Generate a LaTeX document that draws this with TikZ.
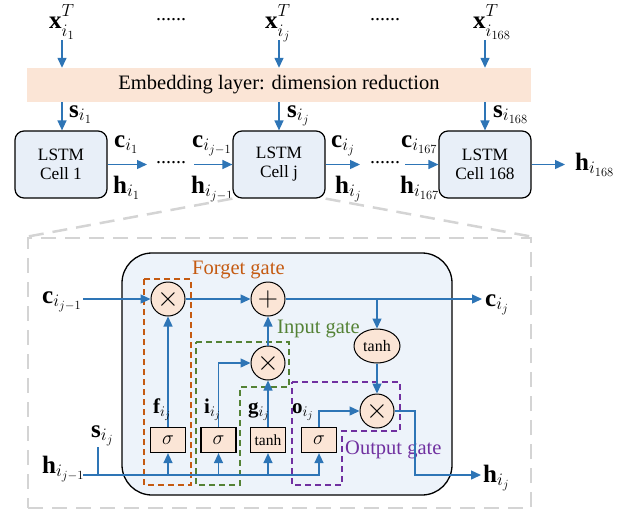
\RequirePackage{fix-cm}
\documentclass[tikz,border=0pt]{standalone}
\usepackage{fontspec}
\setmainfont{Liberation Serif}
\usetikzlibrary{arrows.meta,shapes.geometric}

\definecolor{flowblue}{RGB}{46,117,182}
\definecolor{peach}{RGB}{251,229,214}
\definecolor{cellblue}{RGB}{232,239,248}
\definecolor{bodyblue}{RGB}{237,243,250}
\definecolor{forgetc}{RGB}{197,90,17}
\definecolor{inputc}{RGB}{84,130,53}
\definecolor{outputc}{RGB}{112,48,160}
\definecolor{zoomgray}{RGB}{212,212,212}

% input vector with a raised transpose and a lowered index
\newcommand{\inx}[1]{$\mathbf{x}^{\raisebox{2.5pt}{$\scriptstyle T$}}_{\raisebox{-2.5pt}{$\scriptstyle #1$}}$}

\begin{document}
\begin{tikzpicture}[
    x=1pt, y=-1pt,
    arrow/.style={-{Triangle[length=10pt,width=9pt]}, draw=flowblue, line width=1.4pt},
    wire/.style={draw=flowblue, line width=1.4pt},
    cell/.style={draw, line width=1.2pt, rounded corners=9pt, fill=cellblue, align=center, minimum width=92pt, minimum height=67pt, font=\fontsize{17.3}{19}\selectfont},
    op/.style={circle, draw, line width=1pt, fill=peach, minimum size=34pt, inner sep=0pt, font=\fontsize{28}{28}\selectfont},
    act/.style={rectangle, draw, line width=1.2pt, fill=peach, minimum width=35pt, minimum height=25pt, inner sep=0pt, font=\fontsize{20}{20}\selectfont},
    vec/.style={anchor=base west, inner sep=0pt, font=\fontsize{25}{25}\selectfont},
    gatevec/.style={vec, font=\fontsize{21}{21}\selectfont},
    dots/.style={inner sep=0pt, font=\fontsize{20}{20}\selectfont},
    gatebox/.style={line width=1.2pt, dash pattern=on 6pt off 4pt},
    gatename/.style={anchor=base west, inner sep=0pt, font=\fontsize{20.5}{21}\selectfont},
    proj/.style={draw=zoomgray, line width=2.5pt, dash pattern=on 15pt off 9pt}
]
\useasboundingbox (0,0) rectangle (628,512);

% sequence of inputs and the embedding layer
\node[fill=peach, minimum width=504pt, minimum height=34pt, font=\fontsize{20.5}{21}\selectfont] (embed) at (279,85) {Embedding layer: dimension reduction};

\node[vec] (x1) at (49,28) {\inx{i_1}};
\node[vec] (xj) at (265,28) {\inx{i_j}};
\node[vec] (x168) at (473,28) {\inx{i_{168}}};
\node[dots] (xdots1) at (171,20) {......};
\node[dots] (xdots2) at (385,20) {......};

\coordinate (x1in) at (62,40);
\coordinate (xjin) at (279,40);
\coordinate (x168in) at (485,40);
\draw[arrow] (x1in) -- (x1in |- embed.north);
\draw[arrow] (xjin) -- (xjin |- embed.north);
\draw[arrow] (x168in) -- (x168in |- embed.north);

% unrolled LSTM chain
\node[cell] (cell1) at (61,164.5) {LSTM\\Cell 1};
\node[cell] (cellj) at (279,164.5) {LSTM\\Cell j};
\node[cell] (cell168) at (485,164.5) {LSTM\\Cell 168};

\draw[arrow] (x1in |- embed.south) -- (x1in |- cell1.north);
\draw[arrow] (xjin |- embed.south) -- (xjin |- cellj.north);
\draw[arrow] (x168in |- embed.south) -- (x168in |- cell168.north);
\node[vec] (s1) at (69,117) {$\mathbf{s}_{i_1}$};
\node[vec] (sj) at (287,117) {$\mathbf{s}_{i_j}$};
\node[vec] (s168) at (493,117) {$\mathbf{s}_{i_{168}}$};

\coordinate (c1out) at (147,164.5);
\coordinate (cjin) at (194,164.5);
\coordinate (cjout) at (360,164.5);
\coordinate (c168in) at (405,164.5);
\coordinate (hlast) at (565,164.5);
\draw[arrow] (cell1.east) -- (c1out);
\draw[arrow] (cjin) -- (cellj.west);
\draw[arrow] (cellj.east) -- (cjout);
\draw[arrow] (c168in) -- (cell168.west);
\draw[arrow] (cell168.east) -- (hlast);
\node[dots] (hdots1) at (171,163) {......};
\node[dots] (hdots2) at (385,163) {......};

\node[vec] (c1) at (114,147) {$\mathbf{c}_{i_1}$};
\node[vec] (h1) at (113,193) {$\mathbf{h}_{i_1}$};
\node[vec] (cjm) at (192,147) {$\mathbf{c}_{i_{j-1}}$};
\node[vec] (hjm) at (191,193) {$\mathbf{h}_{i_{j-1}}$};
\node[vec] (cj) at (331,147) {$\mathbf{c}_{i_j}$};
\node[vec] (hj) at (335,193) {$\mathbf{h}_{i_j}$};
\node[vec] (c167) at (401,147) {$\mathbf{c}_{i_{167}}$};
\node[vec] (h167) at (400,193) {$\mathbf{h}_{i_{167}}$};
\node[vec] (h168) at (575,170) {$\mathbf{h}_{i_{168}}$};

% zoomed view of cell j
\node[draw=zoomgray, line width=2.5pt, dash pattern=on 15pt off 9pt, minimum width=503pt, minimum height=270pt] (detail) at (279.5,373) {};
\draw[proj] (cellj.south west) -- (detail.north west);
\draw[proj] (cellj.south east) -- (detail.north east);

\node[draw, line width=1.3pt, fill=bodyblue, rounded corners=30pt, minimum width=330pt, minimum height=242pt] (body) at (287,374) {};

% gate regions
\draw[forgetc, gatebox] (144,279) rectangle (191,485);
\draw[inputc, gatebox] (196,342) -- (289,342) -- (289,387) -- (240,387) -- (240,485) -- (196,485) -- cycle;
\draw[outputc, gatebox] (292,382) -- (400,382) -- (400,431) -- (342,431) -- (342,485) -- (292,485) -- cycle;
\node[gatename, text=forgetc] (fname) at (192,274) {Forget gate};
\node[gatename, text=inputc] (iname) at (277,333) {Input gate};
\node[gatename, text=outputc] (oname) at (345,454) {Output gate};

% operations
\node[op] (mulF) at (168,299) {$\times$};
\node[op] (add) at (268,299) {$+$};
\node[op] (mulI) at (268,363) {$\times$};
\node[op] (mulO) at (377,411) {$\times$};
\node[ellipse, draw, line width=1pt, fill=peach, minimum width=46pt, minimum height=34pt, inner sep=0pt, font=\fontsize{16}{16}\selectfont] (tanhC) at (377,346) {tanh};

\node[act] (sigF) at (168,440) {$\sigma$};
\node[act] (sigI) at (218.5,440) {$\sigma$};
\node[act, font=\fontsize{15.5}{16}\selectfont] (tanhG) at (268,440) {tanh};
\node[act] (sigO) at (319,440) {$\sigma$};

% cell state path
\coordinate (cprev) at (83,299);
\coordinate (cnext) at (482,299);
\coordinate (ctap) at (377,299);
\draw[arrow] (cprev) -- (mulF.west);
\draw[arrow] (mulF) -- (add);
\draw[arrow] (add) -- (cnext);
\draw[arrow] (ctap) -- (tanhC);
\draw[arrow] (tanhC) -- (mulO);

% hidden state path
\coordinate (hprev) at (83,475);
\coordinate (hturn) at (415,475);
\coordinate (hnext) at (481,475);
\coordinate (stop) at (98,447);
\draw[arrow] (mulO.east) -| (hturn) -- (hnext);
\draw[arrow] (hprev) -| (sigO.south);
\foreach \g in {sigF,sigI,tanhG}
    \draw[arrow] (\g.south |- hprev) -- (\g.south);
\draw[wire] (stop) -- (stop |- hprev);

% gate outputs
\draw[arrow] (sigF) -- (mulF);
\draw[arrow] (sigI.north) |- (mulI.west);
\draw[arrow] (tanhG) -- (mulI);
\draw[arrow] (mulI) -- (add);
\draw[arrow] (sigO.north) |- (mulO.west);

\node[vec] (cprevlab) at (42,303) {$\mathbf{c}_{i_{j-1}}$};
\node[vec] (hprevlab) at (42,473) {$\mathbf{h}_{i_{j-1}}$};
\node[vec] (slab) at (91,437) {$\mathbf{s}_{i_j}$};
\node[vec] (cnextlab) at (485,306) {$\mathbf{c}_{i_j}$};
\node[vec] (hnextlab) at (483,482) {$\mathbf{h}_{i_j}$};
\node[gatevec] (flab) at (153,413) {$\mathbf{f}_{i_j}$};
\node[gatevec] (ilab) at (204,413) {$\mathbf{i}_{i_j}$};
\node[gatevec] (glab) at (248,413) {$\mathbf{g}_{i_j}$};
\node[gatevec] (olab) at (292,413) {$\mathbf{o}_{i_j}$};

\end{tikzpicture}
\end{document}
